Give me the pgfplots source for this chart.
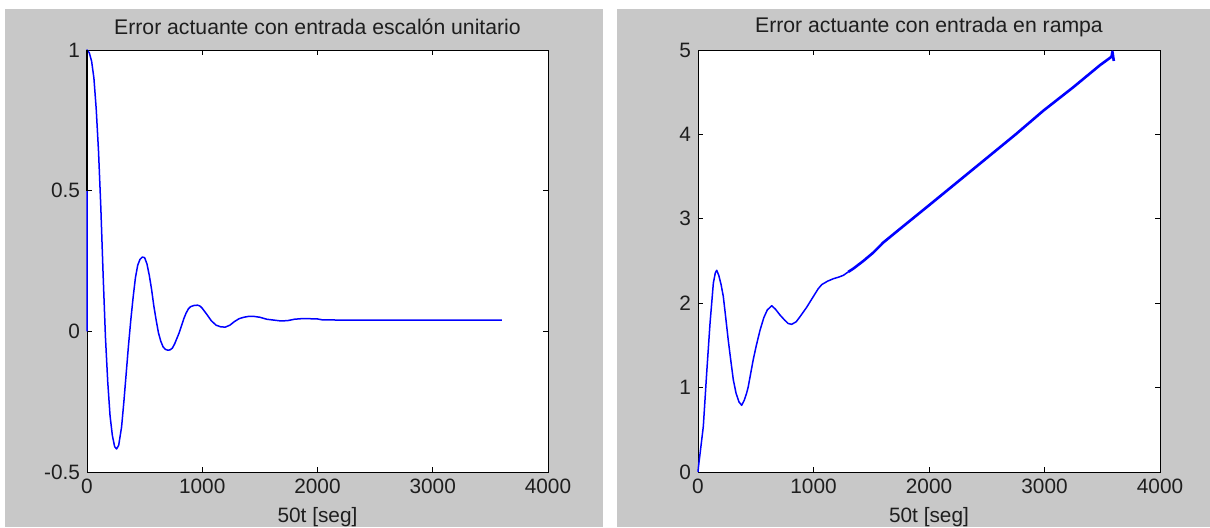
\documentclass[border=0pt]{standalone}
\usepackage{fontspec}
\setmainfont{Liberation Sans}
\usepackage{pgfplots}
\pgfplotsset{compat=1.18}
\definecolor{figgris}{RGB}{200,200,200}
\definecolor{texto}{RGB}{30,30,30}
\definecolor{azul}{RGB}{0,0,255}

\pgfplotsset{matlab/.style={
  scale only axis, height=211pt,
  axis background/.style={fill=white},
  axis line style={line width=0.5pt, black},
  tick align=inside, xtick pos=both, ytick pos=both,
  major tick length=2.5pt,
  tick style={line width=0.5pt, black},
  clip=false,
  xmin=0, xmax=4000, xtick={0,1000,2000,3000,4000},
  xticklabels={0,1000,2000,3000,4000},
  tick label style={font=\fontsize{10.4}{12}\selectfont, text=texto},
  title style={font=\fontsize{10.6}{12}\selectfont, text=texto,
    at={(0.5,1)}, anchor=center, yshift=5.5pt},
  xlabel style={font=\fontsize{10.4}{12}\selectfont, text=texto,
    at={(0.5,0)}, anchor=base, yshift=-25pt},
  xlabel={50t [seg]},
}}

\begin{document}
\begin{tikzpicture}
\useasboundingbox (0,0) rectangle (605pt,263.5pt);
\clip (0,0) rectangle (605pt,263.5pt);
\fill[white] (0,0) rectangle (605pt,263.5pt);
\fill[figgris] (2.5pt,0) rectangle (301.5pt,259pt);
\fill[figgris] (308.5pt,0) rectangle (605pt,259pt);

% escalon unitario
\begin{axis}[matlab, width=230.5pt, at={(43.5pt,27.5pt)}, anchor=south west,
  ymin=-0.5, ymax=1, ytick={-0.5,0,0.5,1}, yticklabels={-0.5,0,0.5,1},
  title={Error actuante con entrada escalón unitario}]
\addplot[azul, line width=0.75pt, line join=round] coordinates {
 (0,0) (0,1) (20,0.99) (40,0.96) (60,0.9) (80,0.79) (100,0.64) (120,0.44)
 (140,0.2) (160,-0.02) (180,-0.18) (200,-0.3) (220,-0.37) (240,-0.41)
 (257,-0.418) (275,-0.405) (300,-0.34) (320,-0.25) (340,-0.15) (360,-0.05)
 (380,0.04) (400,0.12) (420,0.19) (440,0.235) (460,0.256) (480,0.264)
 (500,0.262) (520,0.24) (540,0.2) (560,0.15) (580,0.09) (600,0.04)
 (620,-0.005) (640,-0.035) (660,-0.055) (680,-0.064) (700,-0.067)
 (720,-0.066) (740,-0.06) (760,-0.045) (780,-0.025) (800,-0.005)
 (820,0.02) (840,0.045) (860,0.065) (880,0.08) (900,0.088) (930,0.092)
 (960,0.093) (980,0.09) (1000,0.082) (1040,0.06) (1080,0.037) (1120,0.022)
 (1160,0.016) (1200,0.015) (1240,0.022) (1280,0.035) (1320,0.045)
 (1360,0.05) (1400,0.053) (1450,0.053) (1500,0.05) (1560,0.043)
 (1620,0.04) (1680,0.037) (1740,0.038) (1800,0.043) (1860,0.045)
 (1920,0.045) (2000,0.044) (2040,0.041) (2200,0.04) (2600,0.04)
 (3000,0.04) (3600,0.04)};
\addplot[black, line width=1.2pt] coordinates {(0,0.5) (0,1)};
\end{axis}

% rampa
\begin{axis}[matlab, width=231pt, at={(349pt,27.5pt)}, anchor=south west,
  ymin=0, ymax=5, ytick={0,1,2,3,4,5}, yticklabels={0,1,2,3,4,5},
  title={Error actuante con entrada en rampa}]
\addplot[azul, line width=0.75pt, line join=round] coordinates {
 (0,0) (3,0.05) (25,0.3) (46,0.54) (75,1.17) (104,1.76) (133,2.24)
 (150,2.36) (162,2.39) (180,2.33) (200,2.22) (219,2.08) (240,1.83)
 (262,1.56) (285,1.31) (306,1.09) (330,0.93) (355,0.83) (378,0.79)
 (400,0.85) (420,0.93) (435,1.01) (455,1.16) (478,1.33) (505,1.5)
 (537,1.68) (570,1.83) (600,1.92) (638,1.97) (670,1.93) (710,1.86)
 (750,1.8) (780,1.76) (811,1.75) (850,1.78) (883,1.84) (940,1.95)
 (999,2.08) (1040,2.17) (1071,2.22) (1120,2.26) (1172,2.29) (1220,2.31)
 (1258,2.33) (1300,2.37)};
\addplot[azul, line width=1.3pt, line join=round] coordinates {
 (1300,2.37) (1345,2.41) (1431,2.5) (1518,2.6) (1605,2.72) (1748,2.88)
 (2000,3.16) (2250,3.44) (2500,3.72) (2750,4.0) (2989,4.28) (3250,4.56)
 (3480,4.82) (3580,4.92) (3588,4.98) (3600,4.87)};
\end{axis}
\end{tikzpicture}
\end{document}
